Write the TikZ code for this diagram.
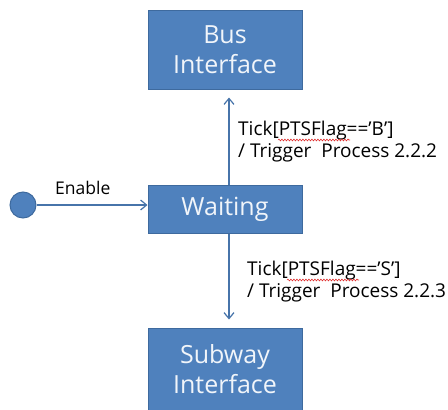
\documentclass[tikz,border=0pt]{standalone}
\usepackage{fontspec}
\setmainfont{Open Sans}
\usetikzlibrary{positioning, arrows.meta, decorations.pathmorphing}
\definecolor{boxblue}{HTML}{4F81BD}
\definecolor{boxline}{HTML}{3E6A9E}
\definecolor{wavyred}{HTML}{E03030}

\begin{document}
\begin{tikzpicture}[x=1pt, y=-1pt,
        state/.style={draw=boxline, line width=1pt, fill=boxblue, text=white!92!boxblue,
            minimum width=154pt, inner sep=0pt, align=center,
            font=\fontsize{25}{30}\selectfont},
        trans/.style={draw=boxblue!90!black, line width=1.2pt,
            -{Straight Barb[length=6pt, width=10pt, line width=1.2pt]}},
        lbl/.style={anchor=north west, align=left, inner sep=0pt,
            font=\fontsize{19}{22}\selectfont},
        wavy/.style={draw=wavyred, line width=0.6pt,
            decorate, decoration={snake, amplitude=0.9pt, segment length=3pt}}]
        \useasboundingbox (0, 0) rectangle (448, 410);
        % states
        \node[state, minimum height=79pt] (bus) at (225, 49.5) {Bus\\Interface};
        \node[state, minimum height=48pt] (wait) at (225, 209) {Waiting};
        \node[state, minimum height=82pt] (sub) at (225, 369) {Subway\\Interface};
        \node[circle, fill=boxblue, draw=boxline, line width=1pt, minimum size=26pt, inner sep=0pt] (start) at (23, 205) {};
        % transitions
        \draw[trans] (start.east) -- (start.east -| wait.west);
        \node[anchor=base west, inner sep=0pt, font=\fontsize{17.5}{20}\selectfont] (enable) at (55, 194) {Enable};
        \draw[trans, shorten >=8pt] ([xshift=4pt]wait.north) -- ([xshift=4pt]bus.south);
        \draw[trans, shorten >=8pt] ([xshift=4pt]wait.south) -- ([xshift=4pt]sub.north);
        % guards
        \node[lbl] (guardB) at (238, 121) {Tick[PTSFlag=='B']\\/ Trigger~ Process 2.2.2};
        \node[lbl] (guardS) at (247, 261) {Tick[PTSFlag=='S']\\/ Trigger~ Process 2.2.3};
        \draw[wavy] (278, 140) -- (350, 140);
        \draw[wavy] (287, 280) -- (359, 280);
    \end{tikzpicture}
\end{document}
